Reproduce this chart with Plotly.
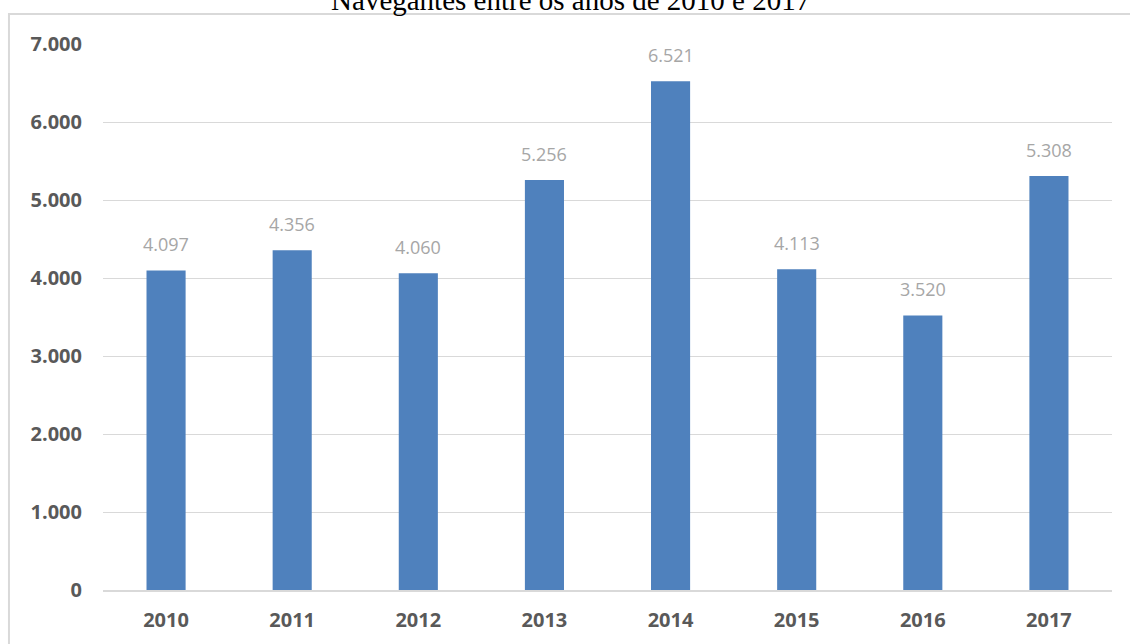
import plotly.graph_objects as go

anos = ['2010', '2011', '2012', '2013', '2014', '2015', '2016', '2017']
navegantes = [4097, 4356, 4060, 5256, 6521, 4113, 3520, 5308]
y_ticks = [0, 1000, 2000, 3000, 4000, 5000, 6000, 7000]

fig = go.Figure()
fig.add_bar(x=anos, y=navegantes, marker=dict(color='#4F81BD', line=dict(width=0)))

# data labels, a little above each bar (x given as category index)
for i, valor in enumerate(navegantes):
    fig.add_annotation(x=i, y=valor, text=f'{valor:,}'.replace(',', '.'),
                       showarrow=False, yanchor='bottom', yshift=12,
                       font=dict(family='Open Sans, sans-serif', size=18, color='#A6A6A6'))

# border of the chart frame (runs off the right and bottom edge in the reference)
fig.add_shape(type='rect', xref='paper', yref='paper',
              x0=-0.0932, x1=1.05, y0=-0.3, y1=1.0549,
              line=dict(color='#D9D9D9', width=2), layer='below')

fig.update_layout(
    title=dict(text='Navegantes entre os anos de 2010 e 2017', x=0.505, xanchor='center',
               y=1.0, yanchor='middle', yref='container',
               font=dict(family='Liberation Serif, Times New Roman, serif', size=29, color='#000000')),
    width=1130, height=644,
    margin=dict(l=103, r=18, t=44, b=54),
    paper_bgcolor='white', plot_bgcolor='white',
    separators=',.',
    bargap=0.69,
    showlegend=False,
    xaxis=dict(type='category', range=[-0.5, len(anos) - 0.5], showgrid=False,
               showline=True, linecolor='#D9D9D9', linewidth=2,
               ticks='', ticklabelstandoff=11,
               tickfont=dict(family='Open Sans, sans-serif', size=20, color='#595959', weight='bold')),
    yaxis=dict(range=[0, 7000], tickvals=y_ticks, tickformat=',', showgrid=True,
               gridcolor='#D9D9D9', gridwidth=1, zeroline=False, showline=False,
               ticklabelstandoff=20,
               tickfont=dict(family='Open Sans, sans-serif', size=20, color='#595959', weight='bold')),
)

# the page's default body margin would push the figure 8px down and right
fig.write_html('out.html', config={'displayModeBar': False},
               post_script="document.body.style.margin='0';")
